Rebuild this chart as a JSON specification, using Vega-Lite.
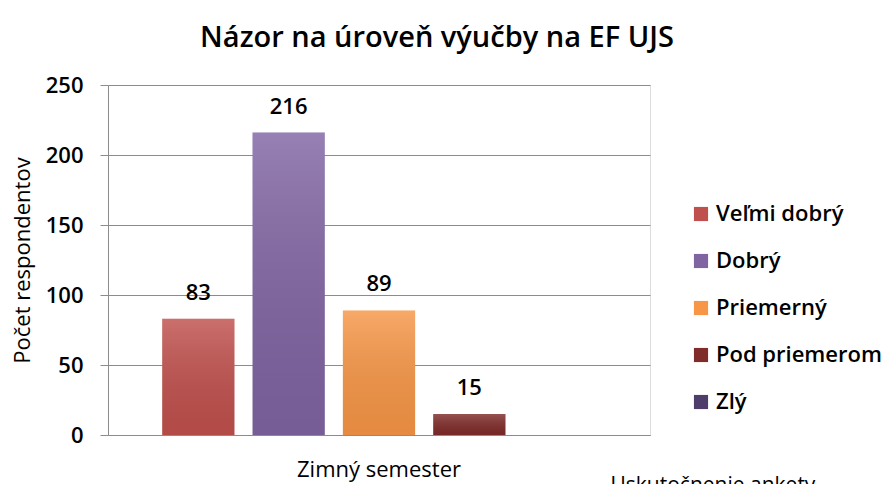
{
  "$schema": "https://vega.github.io/schema/vega-lite/v6.json",
  "autosize": "none",
  "width": 542,
  "height": 350,
  "padding": {"left": 108, "top": 85, "right": 235, "bottom": 49},
  "background": "white",
  "title": {
    "text": "Názor na úroveň výučby na EF UJS",
    "font": "Open Sans",
    "fontSize": 29,
    "fontWeight": 600,
    "color": "#000000",
    "anchor": "middle",
    "baseline": "alphabetic",
    "dx": 58,
    "offset": -2
  },
  "data": {
    "values": [
      {"semester": "Zimný semester", "kategoria": "Veľmi dobrý", "pocet": 83},
      {"semester": "Zimný semester", "kategoria": "Dobrý", "pocet": 216},
      {"semester": "Zimný semester", "kategoria": "Priemerný", "pocet": 89},
      {"semester": "Zimný semester", "kategoria": "Pod priemerom", "pocet": 15},
      {"semester": "Zimný semester", "kategoria": "Zlý", "pocet": 0}
    ]
  },
  "encoding": {
    "x": {
      "field": "semester",
      "type": "nominal",
      "scale": {"paddingInner": 0, "paddingOuter": 0.1},
      "axis": {
        "title": "Uskutočnenie ankety",
        "titleFont": "Open Sans",
        "titleFontSize": 21,
        "titleFontWeight": "normal",
        "titleColor": "#000000",
        "titleAlign": "left",
        "titleAnchor": "start",
        "titleBaseline": "alphabetic",
        "titleX": 502,
        "titleY": 56,
        "labelFont": "Open Sans",
        "labelFontSize": 22,
        "labelFontWeight": 500,
        "labelColor": "#000000",
        "labelAngle": 0,
        "labelPadding": 24,
        "ticks": false,
        "domainColor": "#8c8c8c",
        "grid": false
      }
    },
    "xOffset": {
      "field": "kategoria",
      "type": "nominal",
      "sort": ["Veľmi dobrý", "Dobrý", "Priemerný", "Pod priemerom", "Zlý"],
      "scale": {"paddingInner": 0.2, "paddingOuter": 0.1}
    },
    "y": {
      "field": "pocet",
      "type": "quantitative",
      "scale": {"domain": [0, 250], "nice": false},
      "axis": {
        "values": [0, 50, 100, 150, 200, 250],
        "title": "Počet respondentov",
        "titleFont": "Open Sans",
        "titleFontSize": 22,
        "titleFontWeight": "normal",
        "titleColor": "#000000",
        "titlePadding": 11,
        "labelFont": "Open Sans",
        "labelFontSize": 22,
        "labelFontWeight": 600,
        "labelColor": "#000000",
        "labelPadding": 17,
        "tickSize": 8,
        "tickColor": "#8c8c8c",
        "domainColor": "#8c8c8c",
        "gridColor": "#8c8c8c",
        "gridWidth": 1
      }
    }
  },
  "layer": [
    {
      "mark": {"type": "bar"},
      "encoding": {
        "color": {
          "field": "kategoria",
          "type": "nominal",
          "sort": ["Veľmi dobrý", "Dobrý", "Priemerný", "Pod priemerom", "Zlý"],
          "scale": {
            "domain": ["Veľmi dobrý", "Dobrý", "Priemerný", "Pod priemerom", "Zlý"],
            "range": ["#c0504d", "#8064a2", "#f79646", "#7f2c2a", "#4f3d6b"]
          },
          "legend": {
            "title": null,
            "orient": "none",
            "legendX": 582,
            "legendY": 118,
            "symbolType": "square",
            "symbolSize": 200,
            "symbolStrokeWidth": 0,
            "labelFont": "Open Sans",
            "labelFontSize": 22,
            "labelFontWeight": 600,
            "labelColor": "#000000",
            "labelOffset": 4,
            "labelLimit": 300,
            "rowPadding": 25
          }
        }
      }
    },
    {
      "mark": {
        "type": "bar",
        "color": {
          "gradient": "linear",
          "x1": 0, "y1": 0, "x2": 0, "y2": 1,
          "stops": [
            {"offset": 0, "color": "rgba(255,255,255,0.18)"},
            {"offset": 1, "color": "rgba(0,0,0,0.07)"}
          ]
        }
      }
    },
    {
      "mark": {
        "type": "text",
        "font": "Open Sans",
        "fontSize": 22,
        "fontWeight": 600,
        "color": "#000000",
        "baseline": "alphabetic",
        "dy": -19
      },
      "transform": [{"filter": "datum.pocet > 0"}],
      "encoding": {
        "text": {"field": "pocet", "type": "quantitative"}
      }
    }
  ]
}
